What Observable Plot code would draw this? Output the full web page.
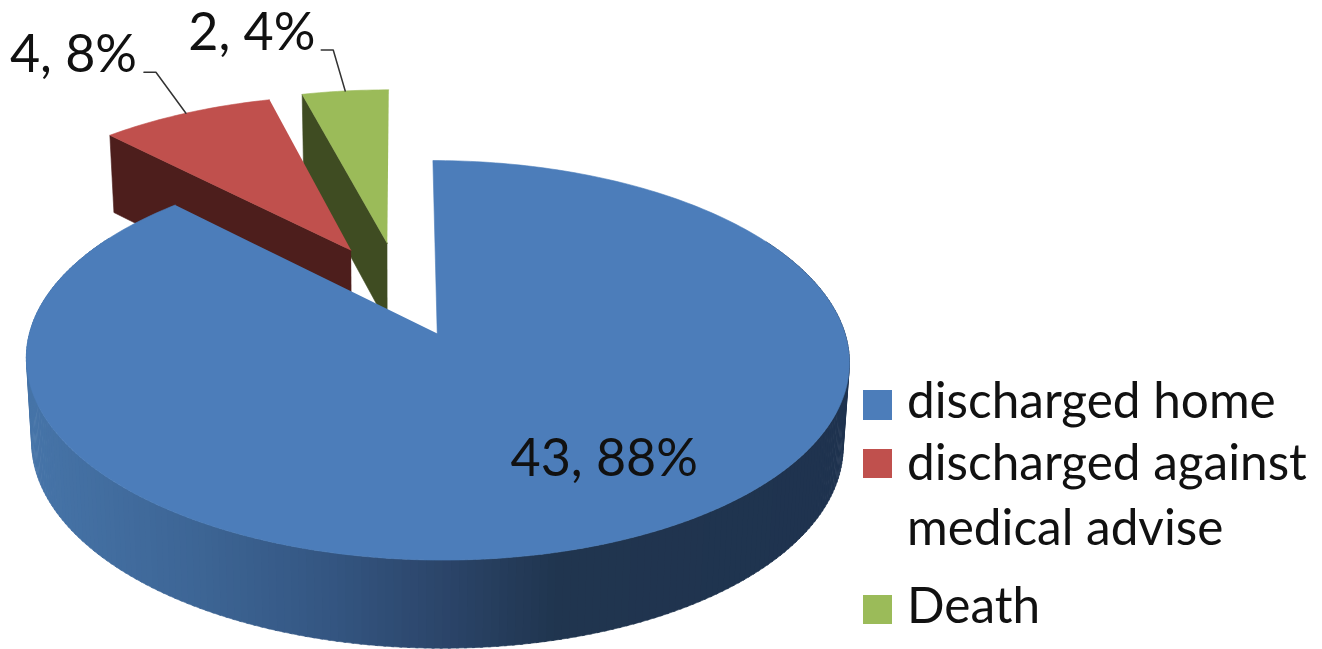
<!DOCTYPE html>
<html>
<head>
<meta charset="utf-8">
<script src="https://cdn.jsdelivr.net/npm/d3@7"></script>
<script src="https://cdn.jsdelivr.net/npm/@observablehq/plot@0.6"></script>
<style>
html,body{margin:0;padding:0;background:#fff;overflow:hidden}
#wrap{position:relative;width:1322px;height:649px;font-family:Lato,sans-serif;color:#111}
#wrap svg{display:block}
.sw{position:absolute;left:863px;width:28.5px;height:29.5px}
.lg{position:absolute;left:907px;font-size:49.5px;line-height:62px;white-space:nowrap}
</style>
</head>
<body>
<div id="wrap"></div>
<script>
const categories = ["discharged home", "discharged against medical advise", "Death"];
const counts = [43, 4, 2];
const topColors = ["#4c7dba", "#c0504d", "#9bbb59"];
const faceColors = ["#1f334f", "#4d1e1c", "#3f4c22"];
const explode = [0.24, 0.262, 0.27];

// projection of the tilted disc (unit radius) to the page
const view = {x0: 400, y0: 290.7, A: 396, B: 185, k: 0.13, shrink: 0.986};
const px = (X, Y) => view.x0 + view.A * X / (1 + view.k * Y);
const py = (X, Y) => view.y0 - view.B * Y / (1 + view.k * Y);
const depth = Y => 82 - 5 * Y;
const top3 = (X, Y) => [px(X, Y), py(X, Y)];
const low3 = (X, Y) => [view.x0 + (px(X, Y) - view.x0) * view.shrink, py(X, Y) + depth(Y)];

const total = d3.sum(counts);
const slices = d3.pie().sort(null).startAngle(0).endAngle(2 * Math.PI)(counts).map((a, i) => {
  const mid = (a.startAngle + a.endAngle) / 2;
  return {i, start: a.startAngle, end: a.endAngle, mid,
    cx: explode[i] * Math.sin(mid), cy: explode[i] * Math.cos(mid)};
});
const rim = (s, t) => [s.cx + Math.sin(t), s.cy + Math.cos(t)];
const deg = Math.PI / 180;

const polys = [];
const addPoly = (id, color, pts) => pts.forEach(([x, y]) => polys.push({id, color, x, y}));
const wallRamp = d3.scaleLinear()
  .domain([30, 200, 330, 440, 560, 850])
  .range(["#4674a8", "#3d6595", "#345682", "#2c466b", "#20354f", "#1f334f"]);

const topPoly = s => {
  const pts = [top3(s.cx, s.cy)];
  for (const t of d3.range(s.start, s.end, deg)) pts.push(top3(...rim(s, t)));
  pts.push(top3(...rim(s, s.end)));
  return pts;
};

// order: green at the back, then red, big slice in front
[2, 1, 0].forEach(i => {
  const s = slices[i];
  if (i !== 0) {
    const [ox, oy] = rim(s, s.start);
    addPoly(`face${i}`, faceColors[i], [top3(s.cx, s.cy), top3(ox, oy), low3(ox, oy), low3(s.cx, s.cy)]);
  } else {
    for (const t of d3.range(60 * deg, 300 * deg, deg)) {
      const a = rim(s, t), b = rim(s, t + deg * 1.3);
      const mx = top3(...a)[0];
      addPoly(`wall${t}`, wallRamp(mx), [top3(...a), top3(...b), low3(...b), low3(...a)]);
    }
  }
  addPoly(`top${i}`, topColors[i], topPoly(s));
});

// labels
const labelText = i => `${counts[i]}, ${Math.round(counts[i] / total * 100)}%`;
const anchorOf = s => top3(...rim(s, s.mid));
const labelOffset = [[0, 0], [-176, -41], [-157, -41]];
const elbow = [null, [-30, -41], [-12, -41]];
const stub = 12;
const lblRows = slices.map(s => {
  const [ax, ay] = s.i === 0 ? [510, 475] : anchorOf(s);
  return {text: labelText(s.i), x: ax + labelOffset[s.i][0], y: ay + labelOffset[s.i][1]};
});
const leaders = [];
[1, 2].forEach(i => {
  const [ax, ay] = anchorOf(slices[i]);
  const ex = ax + elbow[i][0], ey = ay + elbow[i][1];
  [[ax, ay], [ex, ey], [ex - stub, ey]].forEach(([x, y]) => leaders.push({i, x, y}));
});

const chart = Plot.plot({
  width: 1322, height: 649, margin: 0,
  x: {domain: [0, 1322], range: [0, 1322], axis: null},
  y: {domain: [0, 649], range: [0, 649], axis: null},
  color: {type: "identity"},
  style: {background: "#fff", fontFamily: "Lato, sans-serif"},
  marks: [
    Plot.line(polys, {x: "x", y: "y", z: "id", fill: "color", stroke: "color", strokeWidth: 0.6}),
    Plot.line(leaders, {x: "x", y: "y", z: "i", stroke: "#333", strokeWidth: 1.5}),
    Plot.text(lblRows, {x: "x", y: "y", text: "text", textAnchor: "start", lineAnchor: "bottom", fontSize: 52, fill: "#111"})
  ]
});
const wrap = document.getElementById("wrap");
wrap.appendChild(chart);

// legend
const swatchTops = [390, 448.5, 594.5];
const lines = [[categories[0]], ["discharged against", "medical advise"], [categories[2]]];
const baselines = [[418], [480, 545], [623]];
lines.forEach((ls, i) => {
  const sw = document.createElement("div");
  sw.className = "sw";
  sw.style.top = swatchTops[i] + "px";
  sw.style.background = topColors[i];
  wrap.appendChild(sw);
  ls.forEach((t, j) => {
    const d = document.createElement("div");
    d.className = "lg";
    d.textContent = t;
    d.style.top = (baselines[i][j] - 50) + "px";
    wrap.appendChild(d);
  });
});
</script>
</body>
</html>
